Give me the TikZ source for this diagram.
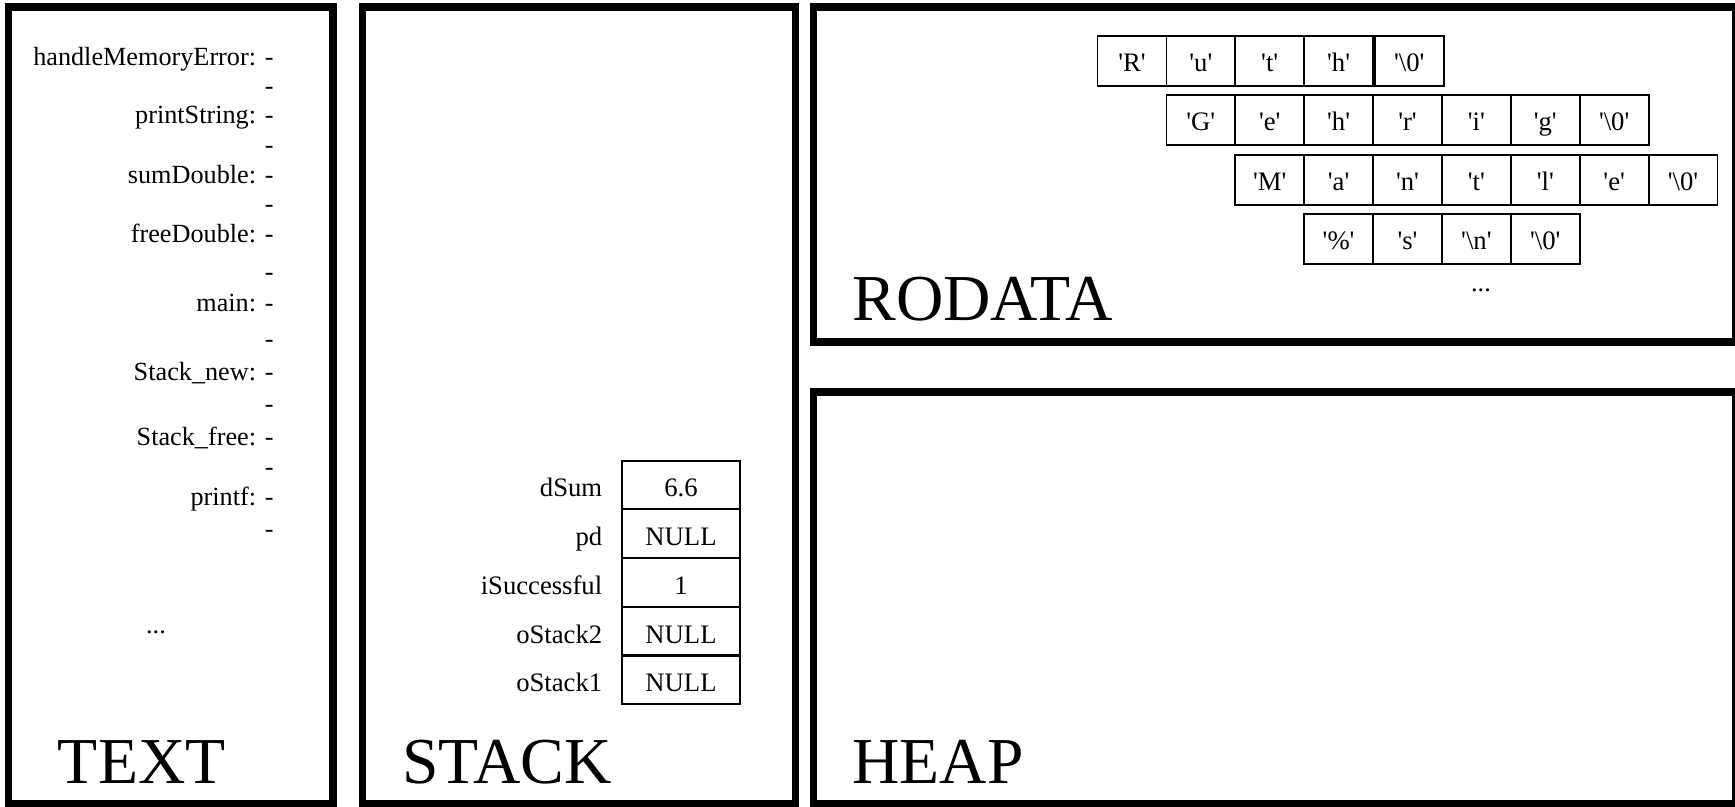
\documentclass[tikz,border=0pt]{standalone}
\usepackage{fontspec}
\setmainfont{Liberation Serif}[Ligatures=TeXOff]
\usetikzlibrary{positioning}

\tikzset{
  seg/.style={line width=3.3pt},
  big/.style={anchor=base west, inner sep=0pt, font=\fontsize{29.5}{34}\selectfont},
  fn/.style={anchor=base east, inner sep=0pt, font=\fontsize{11.8}{14}\selectfont},
  var/.style={inner sep=0pt, text height=13pt, text depth=2.5pt, font=\fontsize{12}{14}\selectfont},
  scell/.style={draw, line width=0.8pt, inner sep=0pt, outer sep=0pt, minimum width=53.1pt, minimum height=21.6pt,
    text height=13pt, text depth=2.5pt, font=\fontsize{12}{14}\selectfont},
  rcell/.style={scell, minimum width=31pt, minimum height=22.5pt, text height=12pt}
}
\newcommand{\chr}[1]{'#1'}

\begin{document}
\begin{tikzpicture}[x=0.45pt, y=-0.45pt]
\useasboundingbox (0,0) rectangle (1735,807);

% memory segments
\draw[seg] (8.8,7) rectangle (333,804);
\draw[seg] (362.3,7) rectangle (795.3,804);
\draw[seg] (813.7,7) rectangle (1736,342);
\draw[seg] (813.7,392) rectangle (1736,804);

\node[big] (ltext) at (57.5,783) {TEXT};
\node[big] (lstack) at (401.6,783) {STACK};
\node[big] (lrodata) at (852,320) {RODATA};
\node[big] (lheap) at (852,783) {HEAP};

% TEXT
\node[fn] (fhandle) at (274,66) {handleMemoryError: -};
\node[fn] (dhandle) at (274,95) {-};
\node[fn] (fprint) at (274,124) {printString: -};
\node[fn] (dprint) at (274,154) {-};
\node[fn] (fsum) at (274,184) {sumDouble: -};
\node[fn] (dsum) at (274,213) {-};
\node[fn] (ffree) at (274,243) {freeDouble: -};
\node[fn] (dfree) at (274,280) {-};
\node[fn] (fmain) at (274,311) {main: -};
\node[fn] (dmain) at (274,347) {-};
\node[fn] (fnew) at (274,380) {Stack\_new: -};
\node[fn] (dnew) at (274,412) {-};
\node[fn] (fsfree) at (274,445) {Stack\_free: -};
\node[fn] (dsfree) at (274,475) {-};
\node[fn] (fprintf) at (274,505) {printf: -};
\node[fn] (dprintf) at (274,537) {-};
\node[fn, anchor=base] (tdots) at (156,633) {...};

% STACK
\node[scell, anchor=north west] (vdsum) at (622,460.7) {6.6};
\node[scell, below=0.4pt of vdsum] (vpd) {NULL};
\node[scell, below=0.4pt of vpd] (vsucc) {1};
\node[scell, below=0.4pt of vsucc] (vos2) {NULL};
\node[scell, below=0.4pt of vos2] (vos1) {NULL};
\node[var, left=8.7pt of vdsum] (ndsum) {dSum};
\node[var, left=8.7pt of vpd] (npd) {pd};
\node[var, left=8.7pt of vsucc] (nsucc) {iSuccessful};
\node[var, left=8.7pt of vos2] (nos2) {oStack2};
\node[var, left=8.7pt of vos1] (nos1) {oStack1};

% RODATA
\node[rcell, anchor=north west] (r1a) at (1097.5,35.7) {\chr{R}};
\node[rcell, right=0pt of r1a] (r1b) {\chr{u}};
\node[rcell, right=0pt of r1b] (r1c) {\chr{t}};
\node[rcell, right=0pt of r1c] (r1d) {\chr{h}};
\node[rcell, right=0.8pt of r1d] (r1e) {\chr{\textbackslash0}};

\node[rcell, below=4.3pt of r1b] (r2a) {\chr{G}};
\node[rcell, right=0pt of r2a] (r2b) {\chr{e}};
\node[rcell, right=0pt of r2b] (r2c) {\chr{h}};
\node[rcell, right=0pt of r2c] (r2d) {\chr{r}};
\node[rcell, right=0pt of r2d] (r2e) {\chr{i}};
\node[rcell, right=0pt of r2e] (r2f) {\chr{g}};
\node[rcell, right=0pt of r2f] (r2g) {\chr{\textbackslash0}};

\node[rcell, below=4.3pt of r2b] (r3a) {\chr{M}};
\node[rcell, right=0pt of r3a] (r3b) {\chr{a}};
\node[rcell, right=0pt of r3b] (r3c) {\chr{n}};
\node[rcell, right=0pt of r3c] (r3d) {\chr{t}};
\node[rcell, right=0pt of r3d] (r3e) {\chr{l}};
\node[rcell, right=0pt of r3e] (r3f) {\chr{e}};
\node[rcell, right=0pt of r3f] (r3g) {\chr{\textbackslash0}};

\node[rcell, below=4.3pt of r3b] (r4a) {\chr{\%}};
\node[rcell, right=0pt of r4a] (r4b) {\chr{s}};
\node[rcell, right=0pt of r4b] (r4c) {\chr{\textbackslash n}};
\node[rcell, right=0pt of r4c] (r4d) {\chr{\textbackslash0}};
\node[fn, anchor=base] (rdots) at (1481,291) {...};

\end{tikzpicture}
\end{document}
